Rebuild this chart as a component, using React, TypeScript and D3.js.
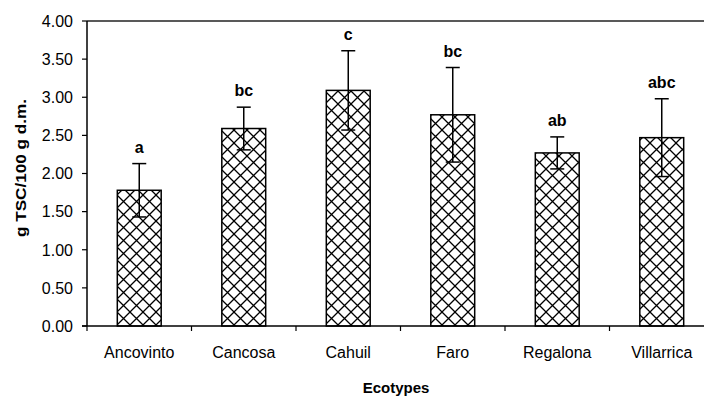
import React, { useEffect, useRef } from 'react';
import * as d3 from 'd3';

const ecotypes = ['Ancovinto', 'Cancosa', 'Cahuil', 'Faro', 'Regalona', 'Villarrica'];
const means = [1.78, 2.59, 3.09, 2.77, 2.27, 2.47];
const errors = [0.35, 0.28, 0.52, 0.62, 0.21, 0.51];
const letters = ['a', 'bc', 'c', 'bc', 'ab', 'abc'];
const yTicks = [0, 0.5, 1, 1.5, 2, 2.5, 3, 3.5, 4];

export default function App() {
  const ref = useRef<SVGSVGElement>(null);

  useEffect(() => {
    const width = 704;
    const height = 397;
    const left = 87;
    const top = 21;
    const bottom = 326;
    const step = 104.5;

    const svg = d3.select(ref.current);
    svg.selectAll('*').remove();
    svg.attr('width', width).attr('height', height);

    const font = 'Arial, "Liberation Sans", sans-serif';

    const defs = svg.append('defs');
    const pat = defs
      .append('pattern')
      .attr('id', 'cross')
      .attr('patternUnits', 'userSpaceOnUse')
      .attr('width', 13)
      .attr('height', 13);
    pat.append('rect').attr('width', 13).attr('height', 13).attr('fill', '#fff');
    pat
      .append('path')
      .attr('d', 'M0,0L13,13M13,0L0,13')
      .attr('stroke', '#000')
      .attr('stroke-width', 1.3);

    const x = d3
      .scaleBand()
      .domain(ecotypes)
      .range([left, left + step * ecotypes.length])
      .paddingInner(0.58)
      .paddingOuter(0.29);
    const y = d3.scaleLinear().domain([0, 4]).range([bottom, top]);

    // top frame line
    svg
      .append('line')
      .attr('x1', left)
      .attr('x2', width)
      .attr('y1', top)
      .attr('y2', top)
      .attr('stroke', '#222')
      .attr('stroke-width', 1.5);

    const g = svg.append('g');
    ecotypes.forEach((name, i) => {
      const bx = x(name)!;
      const bw = x.bandwidth();
      const cx = bx + bw / 2;
      g.append('rect')
        .attr('x', bx)
        .attr('y', y(means[i]))
        .attr('width', bw)
        .attr('height', y(0) - y(means[i]))
        .attr('fill', 'url(#cross)')
        .attr('stroke', '#000')
        .attr('stroke-width', 1.5);
      const hi = y(means[i] + errors[i]);
      const lo = y(means[i] - errors[i]);
      g.append('line')
        .attr('x1', cx)
        .attr('x2', cx)
        .attr('y1', hi)
        .attr('y2', lo)
        .attr('stroke', '#000')
        .attr('stroke-width', 1.5);
      [hi, lo].forEach((yy) =>
        g
          .append('line')
          .attr('x1', cx - 7)
          .attr('x2', cx + 7)
          .attr('y1', yy)
          .attr('y2', yy)
          .attr('stroke', '#000')
          .attr('stroke-width', 1.5)
      );
      g.append('text')
        .attr('x', cx)
        .attr('y', hi - 11)
        .attr('text-anchor', 'middle')
        .attr('font-family', font)
        .attr('font-weight', 'bold')
        .attr('font-size', 16)
        .text(letters[i]);
    });

    // y axis
    const yAxis = svg.append('g').attr('transform', `translate(${left},0)`);
    yAxis
      .append('line')
      .attr('x1', 0)
      .attr('x2', 0)
      .attr('y1', top)
      .attr('y2', bottom)
      .attr('stroke', '#000')
      .attr('stroke-width', 1.5);
    yTicks.forEach((t) => {
      yAxis
        .append('line')
        .attr('x1', -5)
        .attr('x2', 0)
        .attr('y1', y(t))
        .attr('y2', y(t))
        .attr('stroke', '#000')
        .attr('stroke-width', 1.2);
      yAxis
        .append('text')
        .attr('x', -14)
        .attr('y', y(t))
        .attr('dy', '0.36em')
        .attr('text-anchor', 'end')
        .attr('font-family', font)
        .attr('font-size', 16)
        .text(d3.format('.2f')(t));
    });

    // x axis
    const xAxis = svg.append('g');
    xAxis
      .append('line')
      .attr('x1', left - 5)
      .attr('x2', width)
      .attr('y1', bottom)
      .attr('y2', bottom)
      .attr('stroke', '#000')
      .attr('stroke-width', 1.5);
    d3.range(ecotypes.length + 1).forEach((i) => {
      const tx = left + step * i;
      xAxis
        .append('line')
        .attr('x1', tx)
        .attr('x2', tx)
        .attr('y1', bottom)
        .attr('y2', bottom + 5)
        .attr('stroke', '#000')
        .attr('stroke-width', 1.2);
    });
    ecotypes.forEach((name) => {
      xAxis
        .append('text')
        .attr('x', x(name)! + x.bandwidth() / 2)
        .attr('y', 358)
        .attr('text-anchor', 'middle')
        .attr('font-family', font)
        .attr('font-size', 16)
        .text(name);
    });

    svg
      .append('text')
      .attr('x', 396)
      .attr('y', 393)
      .attr('text-anchor', 'middle')
      .attr('font-family', font)
      .attr('font-weight', 'bold')
      .attr('font-size', 15)
      .text('Ecotypes');

    svg
      .append('text')
      .attr('transform', `translate(26,168) rotate(-90)`)
      .attr('text-anchor', 'middle')
      .attr('font-family', font)
      .attr('font-weight', 'bold')
      .attr('font-size', 14)
      .attr('textLength', 138)
      .attr('lengthAdjust', 'spacingAndGlyphs')
      .text('g TSC/100 g d.m.');
  }, []);

  return (
    <div style={{ position: 'absolute', left: 0, top: 0 }}>
      <svg ref={ref}></svg>
    </div>
  );
}
